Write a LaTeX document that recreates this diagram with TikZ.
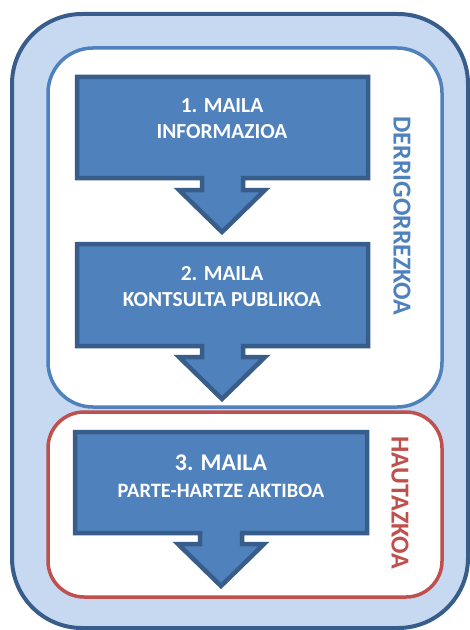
\documentclass[tikz,border=0pt]{standalone}
\usepackage{fontspec}
\setmainfont{Carlito}[BoldFont={Carlito Bold}]
\definecolor{boxblue}{HTML}{4F81BD}
\definecolor{darkblue}{HTML}{385D8A}
\definecolor{paleblue}{HTML}{C6D9F1}
\definecolor{redline}{HTML}{C0504D}
\tikzset{
  stepshape/.style={fill=boxblue, draw=darkblue, line width=4.5bp, line join=miter},
  steptext/.style={text=white, inner sep=0pt},
  sidelabel/.style={font=\bfseries\fontsize{26}{30}\selectfont, rotate=-90, inner sep=0pt},
}
\begin{document}
\begin{tikzpicture}[x=1bp,y=-1bp]
\useasboundingbox (0,0) rectangle (470,630);
\begin{scope}
\clip (0,0) rectangle (470,630);
% outer frame
\draw[fill=paleblue, draw=darkblue, line width=4bp, rounded corners=70bp] (12,14) rectangle (468,628);
\end{scope}
% obligatory group
\draw[fill=white, draw=boxblue, line width=3.5bp, rounded corners=45bp] (48,48) rectangle (442,407);
% optional group
\draw[fill=white, draw=redline, line width=3.5bp, rounded corners=36bp] (48,412) rectangle (442,597);
% step 1
\draw[stepshape] (77,77) -- (368,77) -- (368,178) -- (243,178) -- (243,190) -- (265,190) -- (222,232) -- (179,190) -- (202,190) -- (202,178) -- (77,178) -- cycle;
% step 2
\draw[stepshape] (77,244) -- (368,244) -- (368,346) -- (243,346) -- (243,357) -- (265,357) -- (222,399) -- (179,357) -- (202,357) -- (202,346) -- (77,346) -- cycle;
% step 3
\draw[stepshape] (75,432) -- (367,432) -- (367,533) -- (242,533) -- (242,544) -- (264,544) -- (221,586) -- (178,544) -- (200,544) -- (200,533) -- (75,533) -- cycle;
% texts
\node[steptext, font=\bfseries\fontsize{21.5}{25}\selectfont] (t1a) at (222,106) {1. MAILA};
\node[steptext, font=\bfseries\fontsize{21.5}{25}\selectfont] (t1b) at (222,132) {INFORMAZIOA};
\node[steptext, font=\bfseries\fontsize{21.5}{25}\selectfont] (t2a) at (222,274) {2. MAILA};
\node[steptext, font=\bfseries\fontsize{21.5}{25}\selectfont] (t2b) at (222,300) {KONTSULTA PUBLIKOA};
\node[steptext, font=\bfseries\fontsize{24}{28}\selectfont] (t3a) at (221,463) {3. MAILA};
\node[steptext, font=\bfseries\fontsize{20.5}{24}\selectfont] (t3b) at (221,491) {PARTE-HARTZE AKTIBOA};
\node[sidelabel, text=boxblue] (l1) at (402,216) {DERRIGORREZKOA};
\node[sidelabel, text=redline] (l2) at (400,503) {HAUTAZKOA};
\end{tikzpicture}
\end{document}
